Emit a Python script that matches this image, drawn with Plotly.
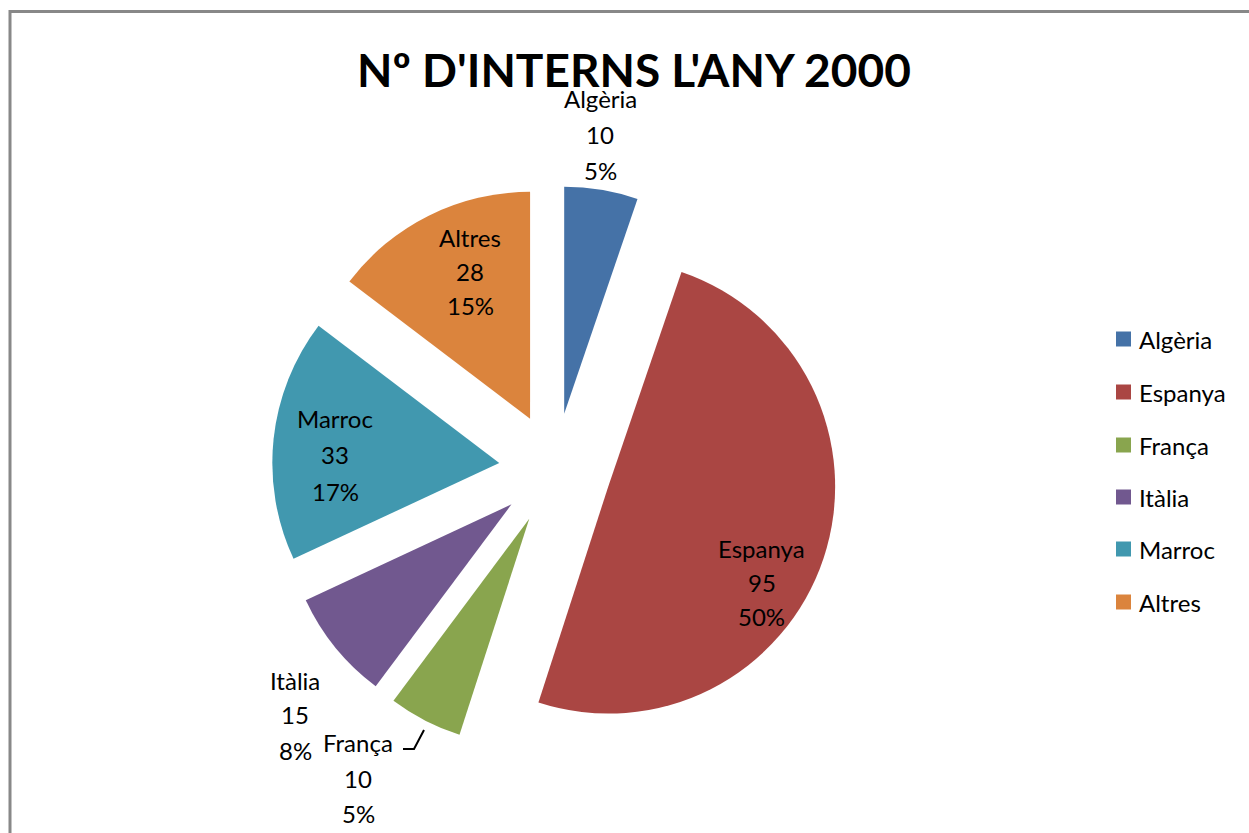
import plotly.graph_objects as go

# ---- data ----
countries = ["Algèria", "Espanya", "França", "Itàlia", "Marroc", "Altres"]
interns = [10, 95, 10, 15, 33, 28]
colors = ["#4572A7", "#AA4643", "#89A54E", "#71588F", "#4198AF", "#DB843D"]
title_text = "Nº D'INTERNS L'ANY 2000"

W, H = 1249, 833
FONT = "Lato, 'Open Sans', sans-serif"


def px(x):
    return x / W


def py(y):
    return 1 - y / H


total = sum(interns)
pcts = [round(v / total * 100) for v in interns]

fig = go.Figure()
fig.add_trace(go.Pie(
    labels=countries,
    values=interns,
    sort=False,
    direction="clockwise",
    rotation=0,
    pull=[0.247] * len(interns),
    marker=dict(colors=colors, line=dict(width=0)),
    textinfo="none",
    hoverinfo="label+value+percent",
    showlegend=False,
    domain=dict(x=[px(272), px(838)], y=[py(752), py(186)]),
))

# data label positions (layout only): centre x, and y of the three lines
label_pos = {
    "Algèria": (600, [98, 134, 170]),
    "Espanya": (762, [548, 582, 616]),
    "França": (358, [742, 778, 813]),
    "Itàlia": (295, [680, 714, 750]),
    "Marroc": (335, [419, 455, 492]),
    "Altres": (470, [237, 272, 306]),
}

annotations = []
for name, val, pc in zip(countries, interns, pcts):
    cx, ys = label_pos[name]
    for txt, yy in zip([name, str(val), f"{pc}%"], ys):
        annotations.append(dict(
            x=px(cx), y=py(yy), xref="paper", yref="paper",
            text=txt, showarrow=False, xanchor="center", yanchor="middle",
            font=dict(family=FONT, size=24, color="#000000"),
        ))

# title
annotations.append(dict(
    x=px(634), y=py(69), xref="paper", yref="paper",
    text=f"<b>{title_text}</b>", showarrow=False,
    xanchor="center", yanchor="middle",
    font=dict(family=FONT, size=46, color="#000000"),
))

# manual legend
shapes = []
leg_y = [339, 392, 445, 497, 549, 602]
for name, col, yy in zip(countries, colors, leg_y):
    shapes.append(dict(
        type="rect", xref="paper", yref="paper",
        x0=px(1116), x1=px(1131), y0=py(yy + 7.5), y1=py(yy - 7.5),
        fillcolor=col, line=dict(width=0),
    ))
    annotations.append(dict(
        x=px(1137), y=py(yy), xref="paper", yref="paper",
        text=name, showarrow=False, xanchor="left", yanchor="middle",
        font=dict(family=FONT, size=24, color="#000000"),
    ))

# leader line for França
shapes.append(dict(
    type="path", xref="paper", yref="paper",
    path=f"M {px(403)} {py(749)} L {px(414)} {py(749)} L {px(424)} {py(730)}",
    line=dict(color="#000000", width=2),
))

# chart border (top and left visible)
shapes.append(dict(
    type="rect", xref="paper", yref="paper",
    x0=px(10), x1=px(1265), y0=py(850), y1=py(11.5),
    line=dict(color="#888888", width=3), fillcolor="rgba(0,0,0,0)",
))

fig.update_layout(
    width=W, height=H,
    margin=dict(l=0, r=0, t=0, b=0),
    paper_bgcolor="#FFFFFF",
    plot_bgcolor="#FFFFFF",
    showlegend=False,
    annotations=annotations,
    shapes=shapes,
)

fig.write_html(
    "out.html",
    config={"displayModeBar": False},
    post_script="document.body.style.margin='0px';document.body.style.overflow='hidden';",
)
